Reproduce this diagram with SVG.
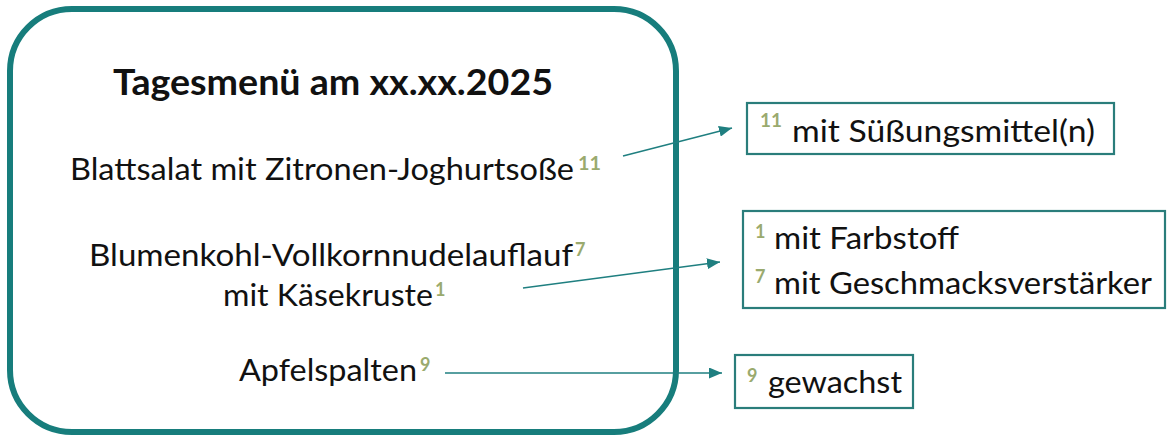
<svg xmlns="http://www.w3.org/2000/svg" width="1170" height="444" viewBox="0 0 1170 444">
  <style>
    .t { font-family: Lato, "Open Sans", "Liberation Sans", sans-serif; font-size: 31px; fill: #111; }
    .title { font-family: Lato, "Open Sans", "Liberation Sans", sans-serif; font-size: 37px; font-weight: bold; fill: #111; }
    .sup { font-family: Lato, "Open Sans", "Liberation Sans", sans-serif; font-size: 18px; font-weight: bold; fill: #9aaa6e; }
    .conn { stroke: #1f7f80; stroke-width: 1.5; fill: none; }
    .box { fill: #fff; stroke: #2a7d7b; stroke-width: 2.2; }
  </style>
  <defs>
    <marker id="arr" viewBox="0 0 13 11" refX="13" refY="5.5" markerWidth="13" markerHeight="11" markerUnits="userSpaceOnUse" orient="auto">
      <path d="M0,0 L13,5.5 L0,11 Z" fill="#1f7f80"/>
    </marker>
  </defs>
  <rect width="1170" height="444" fill="#fff"/>

  <g id="menu">
    <rect x="10" y="9" width="666" height="423" rx="62" ry="62" fill="none" stroke="#177d7c" stroke-width="6"/>
    <text class="title" x="113" y="95" textLength="440" lengthAdjust="spacingAndGlyphs">Tagesmenü am xx.xx.2025</text>
    <text class="t" x="70" y="180" textLength="504" lengthAdjust="spacingAndGlyphs">Blattsalat mit Zitronen-Joghurtsoße</text>
    <text class="sup" x="578" y="170" textLength="23" lengthAdjust="spacingAndGlyphs">11</text>
    <text class="t" x="89" y="266" textLength="484" lengthAdjust="spacingAndGlyphs">Blumenkohl-Vollkornnudelauflauf</text>
    <text class="sup" x="575" y="256">7</text>
    <text class="t" x="223" y="306" textLength="210" lengthAdjust="spacingAndGlyphs">mit Käsekruste</text>
    <text class="sup" x="435" y="296">1</text>
    <text class="t" x="239" y="381" textLength="178" lengthAdjust="spacingAndGlyphs">Apfelspalten</text>
    <text class="sup" x="420" y="371">9</text>
  </g>

  <g id="connectors">
    <line class="conn" x1="623" y1="156" x2="732" y2="128" marker-end="url(#arr)"/>
    <line class="conn" x1="523" y1="288" x2="720" y2="262" marker-end="url(#arr)"/>
    <line class="conn" x1="445" y1="373" x2="722" y2="373" marker-end="url(#arr)"/>
  </g>

  <g id="note-11">
    <rect class="box" x="747" y="103" width="367" height="51"/>
    <text class="sup" x="760" y="127" textLength="22" lengthAdjust="spacingAndGlyphs">11</text>
    <text class="t" x="792" y="142" textLength="303" lengthAdjust="spacingAndGlyphs">mit Süßungsmittel(n)</text>
  </g>

  <g id="note-1-7">
    <rect class="box" x="743" y="211" width="422" height="97"/>
    <text class="sup" x="755" y="238">1</text>
    <text class="t" x="774" y="249" textLength="185" lengthAdjust="spacingAndGlyphs">mit Farbstoff</text>
    <text class="sup" x="755" y="283">7</text>
    <text class="t" x="774" y="294" textLength="378" lengthAdjust="spacingAndGlyphs">mit Geschmacksverstärker</text>
  </g>

  <g id="note-9">
    <rect class="box" x="735" y="355" width="178" height="53"/>
    <text class="sup" x="747" y="382">9</text>
    <text class="t" x="768" y="393" textLength="134" lengthAdjust="spacingAndGlyphs">gewachst</text>
  </g>
</svg>
